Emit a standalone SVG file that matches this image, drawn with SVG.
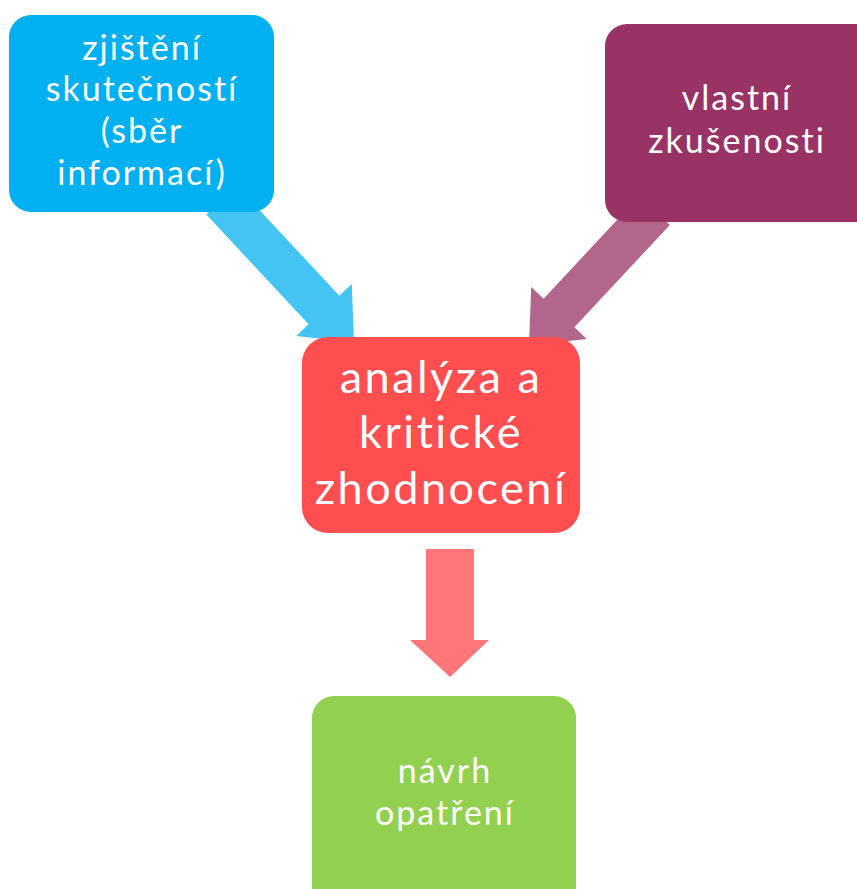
<svg xmlns="http://www.w3.org/2000/svg" width="857" height="889" viewBox="0 0 857 889">
<style>
.t{font-family:Lato,"Open Sans",sans-serif;fill:#fff;text-anchor:middle}
.s{font-size:34px;letter-spacing:2px}
.l{font-size:45px;letter-spacing:2.5px}
</style>
<rect width="857" height="889" fill="#fff"/>
<g id="connectors">
<path id="c1" transform="translate(324,310) rotate(47)" d="M-150,-21 H0 V-38 L44,0 L0,38 V21 H-150 Z" fill="#43C4F2"/>
<path id="c2" transform="translate(559,313) rotate(133)" d="M-140,-21 H0 V-38 L44,0 L0,38 V21 H-140 Z" fill="#B2668B"/>
<path id="c3" d="M426,549 H474 V640 H489 L450,677 L410,640 H426 Z" fill="#FF7578"/>
</g>
<g id="n1">
<rect x="9" y="15" width="265" height="197" rx="22" fill="#00B0F0"/>
<text class="t s" x="142" y="60">zjištění</text>
<text class="t s" x="142" y="101">skutečností</text>
<text class="t s" x="142" y="143">(sběr</text>
<text class="t s" x="142" y="185">informací)</text>
</g>
<g id="n2">
<rect x="605" y="24" width="272" height="198" rx="22" fill="#993366"/>
<text class="t s" x="737" y="110">vlastní</text>
<text class="t s" x="737" y="153">zkušenosti</text>
</g>
<g id="n3">
<rect x="302" y="337" width="278" height="196" rx="26" fill="#FE4E50"/>
<text class="t l" x="441" y="393">analýza a</text>
<text class="t l" x="441" y="448">kritické</text>
<text class="t l" x="441" y="504">zhodnocení</text>
</g>
<g id="n4">
<rect x="312" y="696" width="264" height="220" rx="22" fill="#92D050"/>
<text class="t s" x="445" y="783">návrh</text>
<text class="t s" x="445" y="825">opatření</text>
</g>
</svg>
